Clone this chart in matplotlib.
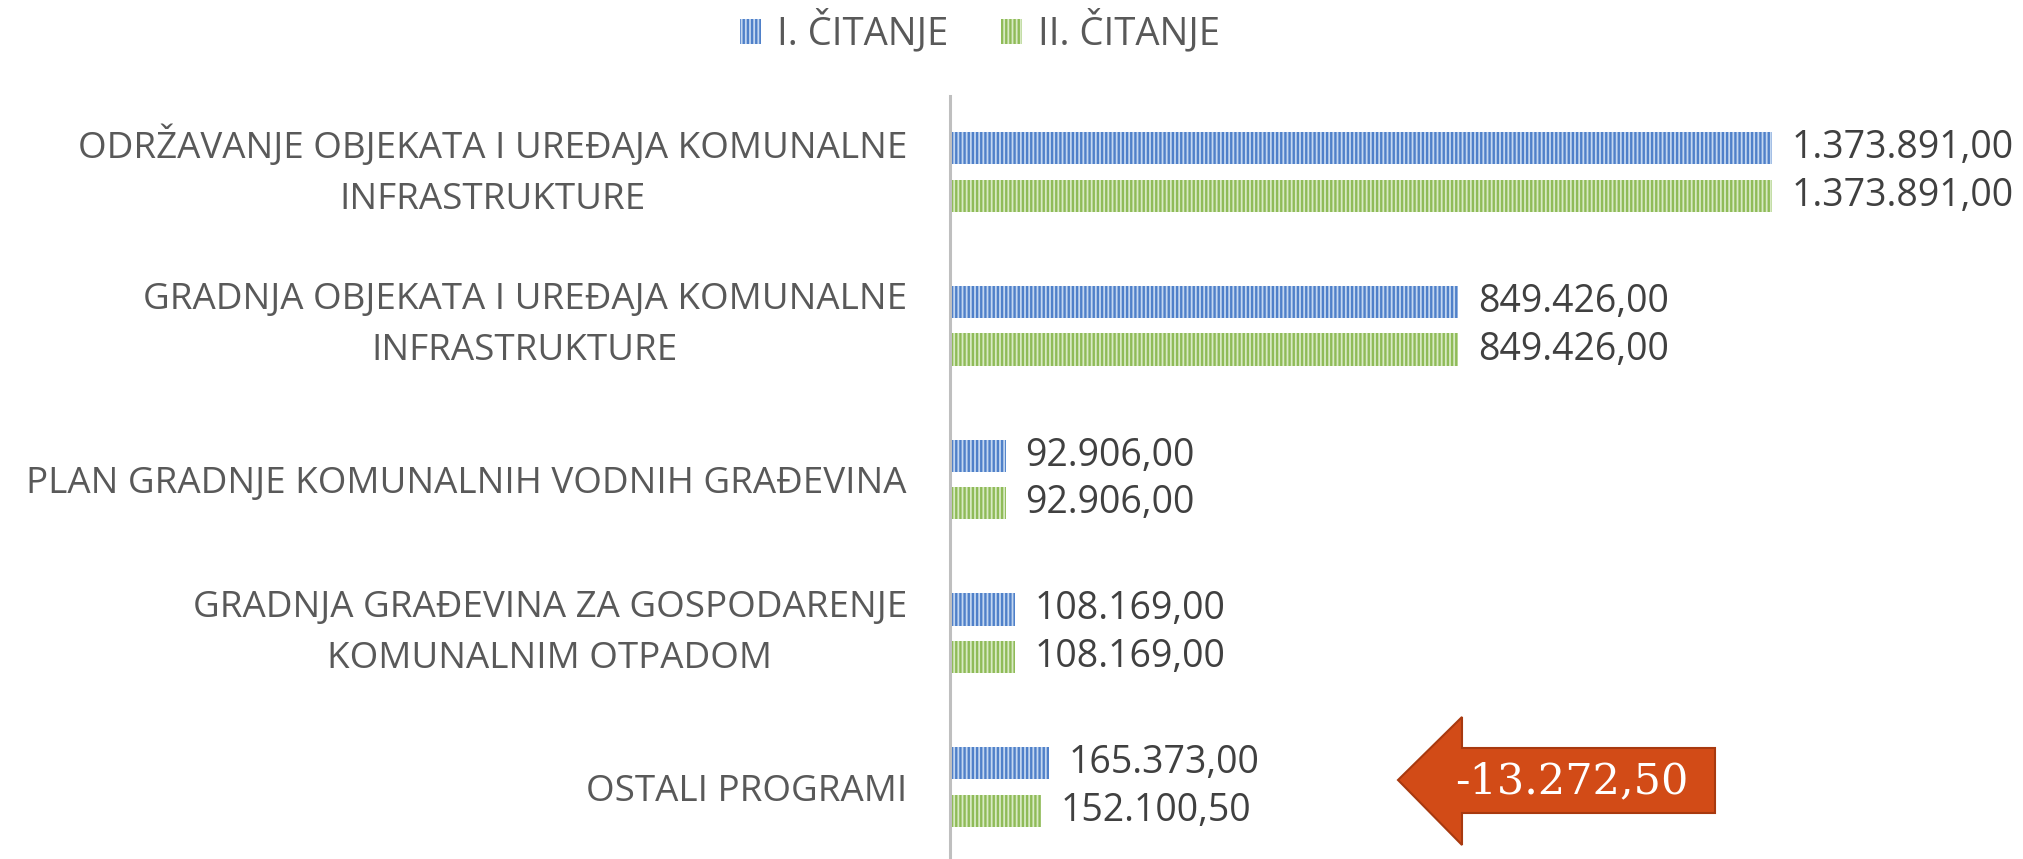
import matplotlib.pyplot as plt
from matplotlib.patches import Patch, Polygon

plt.rcParams.update({"font.family": ["Open Sans", "DejaVu Sans"], "hatch.linewidth": 1.7})

categories = [
    "ODRŽAVANJE OBJEKATA I UREĐAJA KOMUNALNE\nINFRASTRUKTURE",
    "GRADNJA OBJEKATA I UREĐAJA KOMUNALNE\nINFRASTRUKTURE",
    "PLAN GRADNJE KOMUNALNIH VODNIH GRAĐEVINA",
    "GRADNJA GRAĐEVINA ZA GOSPODARENJE\nKOMUNALNIM OTPADOM",
    "OSTALI PROGRAMI",
]
citanje_1 = [1373891.00, 849426.00, 92906.00, 108169.00, 165373.00]
citanje_2 = [1373891.00, 849426.00, 92906.00, 108169.00, 152100.50]
series_names = ["I. ČITANJE", "II. ČITANJE"]


def hr_format(v):
    s = f"{v:,.2f}"
    return s.replace(",", "X").replace(".", ",").replace("X", ".")


W, H = 2023, 859
fig = plt.figure(figsize=(W / 100, H / 100), dpi=100)
ax = fig.add_axes([950 / W, 0, 1 - 950 / W, (H - 96) / H])

blue_face, blue_stripe = "#c3d7f0", "#4f80c9"
green_face, green_stripe = "#d8eac4", "#8fbb58"

pos = list(range(len(categories)))
off, bh = 0.155, 0.21
b1 = ax.barh([p - off for p in pos], citanje_1, height=bh, color=blue_face,
             edgecolor=blue_stripe, hatch="||||", linewidth=0)
b2 = ax.barh([p + off for p in pos], citanje_2, height=bh, color=green_face,
             edgecolor=green_stripe, hatch="||||", linewidth=0)

for bars, vals in [(b1, citanje_1), (b2, citanje_2)]:
    for rect, v in zip(bars, vals):
        ax.annotate(hr_format(v), (rect.get_width(), rect.get_y() + rect.get_height() / 2),
                    xytext=(14.4, 0), textcoords="offset points", va="center", ha="left",
                    fontsize=27, color="#404040")

ax.set_xlim(0, 1373891 * (W - 950) / 822)
ax.set_ylim(4.468, -0.494)
ax.set_xticks([])
ax.set_yticks(pos)
ax.set_yticklabels(categories, fontsize=26.5, color="#595959", linespacing=1.55)
for lbl in ax.get_yticklabels():
    lbl.set_multialignment("center")
    if "\n" in lbl.get_text():
        lbl.set_verticalalignment("center")
ax.tick_params(axis="y", length=0, pad=31)
for s in ["top", "right", "bottom"]:
    ax.spines[s].set_visible(False)
ax.spines["left"].set_color("#bfbfbf")
ax.spines["left"].set_linewidth(2.2)

handles = [
    Patch(facecolor=blue_face, edgecolor=blue_stripe, hatch="||||", linewidth=0),
    Patch(facecolor=green_face, edgecolor=green_stripe, hatch="||||", linewidth=0),
]
leg = fig.legend(handles, series_names, loc="center", bbox_to_anchor=(980 / W, 1 - 32 / H),
                 ncol=2, frameon=False, fontsize=27.5, handlelength=0.55, handleheight=0.62,
                 handletextpad=0.4, columnspacing=1.4)
for t in leg.get_texts():
    t.set_color("#595959")

# difference arrow for the last programme
diff = citanje_2[-1] - citanje_1[-1]
px = [(1398, 780), (1462, 717), (1462, 748), (1715, 748), (1715, 813), (1462, 813), (1462, 845)]
arrow = Polygon([(x / W, 1 - y / H) for x, y in px], closed=True, transform=fig.transFigure,
                facecolor="#d24b17", edgecolor="#a8390f", linewidth=1.5)
fig.patches.append(arrow)
fig.text(1572 / W, 1 - 781 / H, hr_format(diff), ha="center", va="center", color="white",
         fontsize=31, family="DejaVu Serif")

fig.savefig("out.png", dpi=100)
